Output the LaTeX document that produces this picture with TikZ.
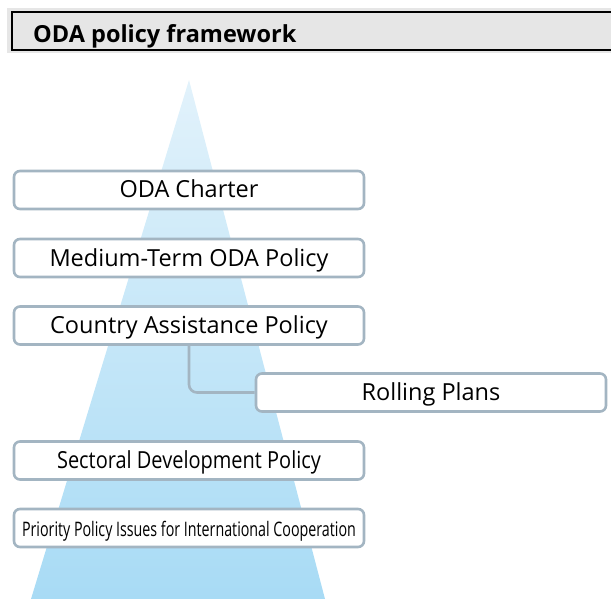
\documentclass[tikz,border=0pt]{standalone}
\usepackage{fontspec}
\setmainfont{Open Sans}
\usetikzlibrary{backgrounds}
\begin{document}
\begin{tikzpicture}[x=1pt,y=-1pt,
  pbox/.style={draw=boxline,line width=2.6pt,rounded corners=6pt,fill=white,
    minimum width=350pt,minimum height=38pt,inner sep=0pt,
    text height=16pt,text depth=0pt,
    font=\fontsize{23.5}{26}\selectfont},
  conn/.style={draw=boxline,line width=2.6pt,rounded corners=8pt}]
\definecolor{boxline}{HTML}{A3B5C2}
\definecolor{tritop}{HTML}{E2F2FB}
\definecolor{tribot}{HTML}{A8DBF5}
\definecolor{band}{HTML}{E6E6E6}
\useasboundingbox (0,0) rectangle (611,599);
% header
\fill[band] (7,8) rectangle (611,53);
\draw[line width=2pt,fill=band] (12,12) rectangle (613,50);
\node[anchor=base west,inner sep=0pt,font=\fontsize{23.5}{26}\selectfont\bfseries] (title) at (33,43) {ODA policy framework};
% boxes
\node[pbox] (charter) at (189,190) {ODA Charter};
\node[pbox] (medium) at (189,258) {Medium-Term ODA Policy};
\node[pbox] (cap) at (189,325.5) {Country Assistance Policy};
\node[pbox] (rolling) at (431,392.5) {Rolling Plans};
\node[pbox] (sector) at (189,460.5) {\scalebox{0.85}[1]{Sectoral Development Policy}};
\node[pbox] (prio) at (189,528) {\fontsize{20}{24}\selectfont\scalebox{0.713}[1]{Priority Policy Issues for International Cooperation}};
\begin{scope}[on background layer]
\shade[top color=tritop,bottom color=tribot] (189,80) -- (325,599) -- (31,599) -- cycle;
\draw[conn] (cap.south) |- (rolling.west);
\end{scope}
\end{tikzpicture}
\end{document}
